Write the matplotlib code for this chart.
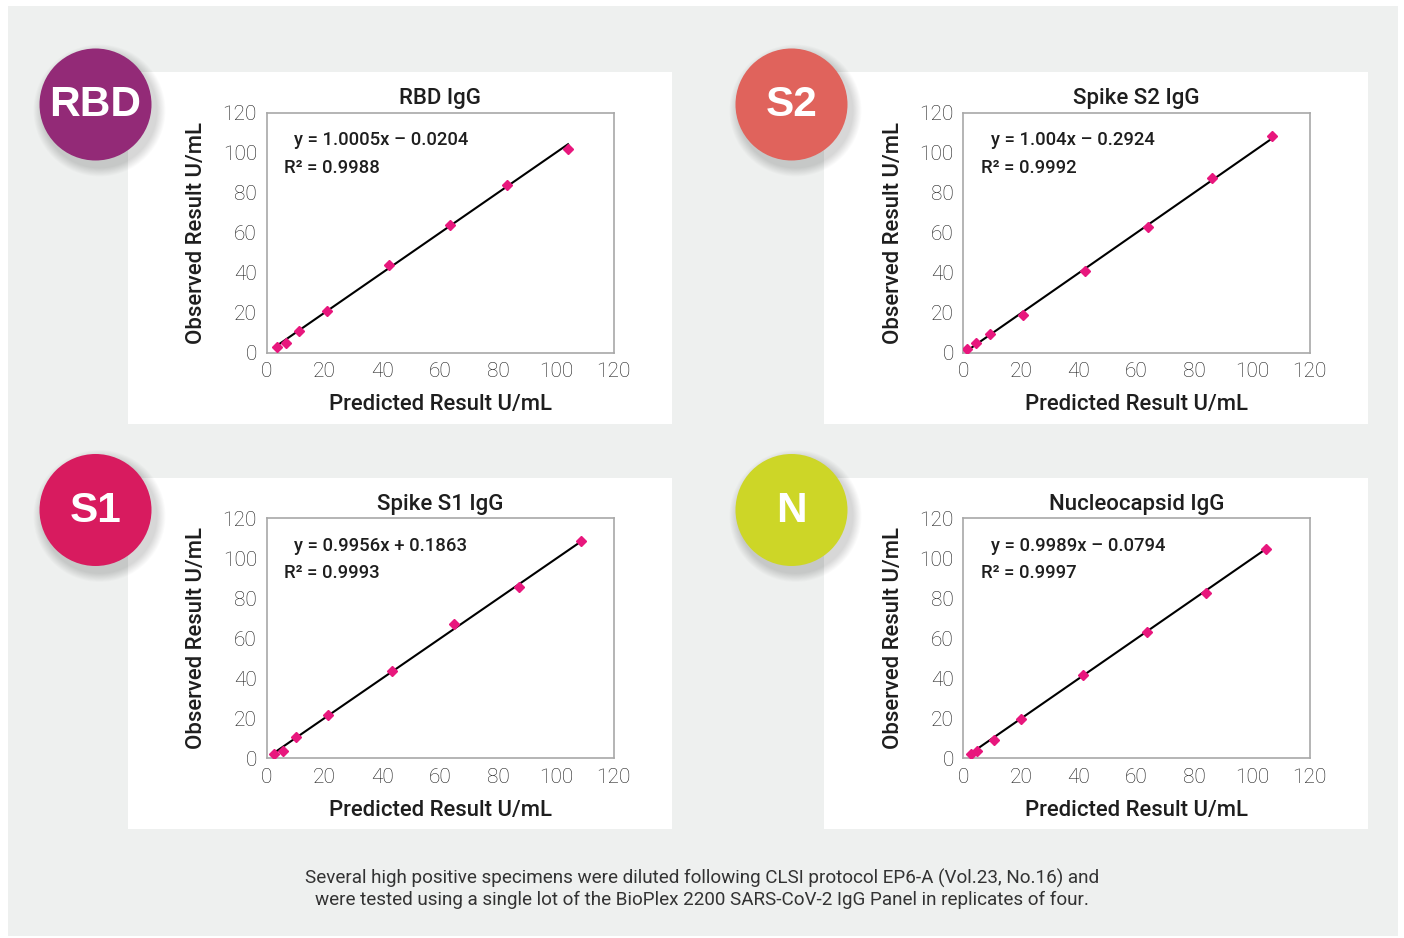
import matplotlib
matplotlib.use("Agg")
import matplotlib.pyplot as plt
from matplotlib.patches import Rectangle, Circle

W, H = 1404, 938

# ---------------- data ----------------
panel_titles = ["RBD IgG", "Spike S2 IgG", "Spike S1 IgG", "Nucleocapsid IgG"]
badge_labels = ["RBD", "S2", "S1", "N"]
badge_colors = ["#932A77", "#E0635C", "#D81B5F", "#CDD627"]

rbd_x = [3.5, 6.6, 11.1, 20.9, 42.3, 63.4, 83.0, 104.2]
rbd_y = [3.0, 5.0, 10.7, 21.0, 44.0, 63.9, 83.9, 101.8]
s2_x = [1.3, 4.5, 9.2, 20.7, 42.3, 63.9, 86.2, 107.1]
s2_y = [1.7, 4.7, 9.4, 18.9, 40.9, 62.7, 87.5, 108.3]
s1_x = [2.5, 5.6, 10.1, 21.1, 43.3, 64.9, 87.3, 108.8]
s1_y = [2.0, 3.7, 10.5, 21.7, 43.5, 67.2, 85.8, 108.7]
n_x = [2.5, 4.6, 10.5, 20.1, 41.4, 63.5, 84.2, 104.9]
n_y = [2.0, 3.7, 9.2, 19.5, 41.8, 63.2, 82.7, 104.8]

slopes = [1.0005, 1.004, 0.9956, 0.9989]
intercepts = [-0.0204, -0.2924, 0.1863, -0.0794]
eq_texts = ["y = 1.0005x \u2013 0.0204", "y = 1.004x \u2013 0.2924",
            "y = 0.9956x + 0.1863", "y = 0.9989x \u2013 0.0794"]
r2_texts = ["R\u00b2 = 0.9988", "R\u00b2 = 0.9992", "R\u00b2 = 0.9993", "R\u00b2 = 0.9997"]

ticks = [0, 20, 40, 60, 80, 100, 120]
xlabel = "Predicted Result U/mL"
ylabel = "Observed Result U/mL"
footer = ("Several high positive specimens were diluted following CLSI protocol EP6-A (Vol.23, No.16) and\n"
          "were tested using a single lot of the BioPlex 2200 SARS-CoV-2 IgG Panel in replicates of four.")

series = [(rbd_x, rbd_y), (s2_x, s2_y), (s1_x, s1_y), (n_x, n_y)]

# ---------------- layout (pixels) ----------------
axes_px = [(266.7, 112.7, 613.7, 352.7), (963.4, 112.7, 1309.6, 352.7),
           (266.7, 518.3, 613.7, 758.3), (963.4, 518.3, 1309.6, 758.3)]
cards_px = [(128, 72, 672, 424), (824, 72, 1368, 424),
            (128, 478, 672, 829), (824, 478, 1368, 829)]
badges_px = [(95.5, 104.5), (791.5, 104.5), (95.5, 510), (791.5, 510)]
badge_r = 56

FONT = ["Roboto", "DejaVu Sans"]
plt.rcParams['font.family'] = FONT
TXT = "#1E1E1E"
PT_COLOR = "#E8177D"

fig = plt.figure(figsize=(W / 100, H / 100), dpi=100)
fig.patch.set_facecolor("white")

bg = fig.add_axes([0, 0, 1, 1], zorder=0)
bg.set_xlim(0, W)
bg.set_ylim(H, 0)
bg.axis("off")
bg.add_patch(Rectangle((8, 6), 1390, 930, facecolor="#EEF0EF", edgecolor="none"))
for (l, t, r, b) in cards_px:
    bg.add_patch(Rectangle((l, t), r - l, b - t, facecolor="white", edgecolor="none"))
for (cx, cy), col, lab in zip(badges_px, badge_colors, badge_labels):
    for i in range(10):
        bg.add_patch(Circle((cx + 4, cy + 6), badge_r + 1 + (10 - i) * 0.9,
                            facecolor="black", edgecolor="none", alpha=0.016))
    bg.add_patch(Circle((cx, cy), badge_r, facecolor=col, edgecolor="none"))
    bg.text(cx, cy + 1, lab, color="white", fontsize=30.5, fontweight="bold",
            ha="center", va="center", family=["Liberation Sans", "DejaVu Sans"])

bg.text(W / 2, 889, footer, ha="center", va="center", fontsize=13.6,
        color="#333333", linespacing=1.2)


def rect(l, t, r, b):
    return [l / W, 1 - b / H, (r - l) / W, (b - t) / H]


for k in range(4):
    ax = fig.add_axes(rect(*axes_px[k]), zorder=2)
    xs, ys = series[k]
    x0, x1 = min(xs), max(xs)
    ax.plot([x0, x1], [slopes[k] * x0 + intercepts[k], slopes[k] * x1 + intercepts[k]],
            color="black", lw=1.5, zorder=2)
    ax.plot(xs, ys, linestyle="none", marker="D", markersize=5.5, color=PT_COLOR,
            markeredgecolor=PT_COLOR, zorder=3)
    ax.set_xlim(0, 120)
    ax.set_ylim(0, 120)
    ax.set_xticks(ticks)
    ax.set_yticks(ticks)
    ax.tick_params(length=0, labelsize=15, labelcolor="#1A1A1A", pad=7)
    for lab in ax.get_xticklabels() + ax.get_yticklabels():
        lab.set_fontweight("light")
    for sp in ax.spines.values():
        sp.set_color("#A8A8A8")
        sp.set_linewidth(1.2)
    ax.set_facecolor("white")
    ax.set_title(panel_titles[k], fontsize=16, color=TXT, pad=6, fontweight="medium")
    ax.set_xlabel(xlabel, fontsize=15.9, color=TXT, labelpad=9, fontweight="medium")
    ax.set_ylabel(ylabel, fontsize=15.9, color=TXT, labelpad=11, fontweight="medium")
    ax.text(0.08, 0.886, eq_texts[k], transform=ax.transAxes, fontsize=13.3,
            color=TXT, va="center", ha="left", fontweight="medium")
    ax.text(0.05, 0.770, r2_texts[k], transform=ax.transAxes, fontsize=13.3,
            color=TXT, va="center", ha="left", fontweight="medium")

fig.savefig("out.png", dpi=100, facecolor="white")
